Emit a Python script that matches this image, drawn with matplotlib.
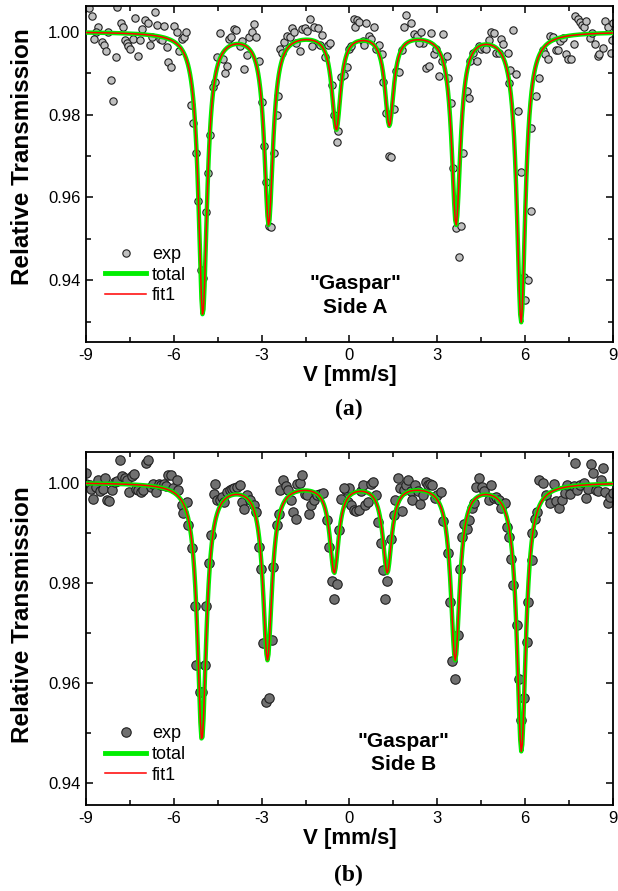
import numpy as np
import matplotlib
matplotlib.use('Agg')
import matplotlib.pyplot as plt
from matplotlib.ticker import MultipleLocator, FormatStrFormatter
from matplotlib.lines import Line2D

plt.rcParams['font.family'] = ['Liberation Sans', 'DejaVu Sans']
plt.rcParams['axes.unicode_minus'] = False

# ---- panel (a): "Gaspar" side A, measured points (V in mm/s, relative transmission)
va = [-8.89, -8.80, -7.93, -8.58, -8.66, -8.73, -8.46, -8.38, -8.32, -8.24, -8.16, -8.06, -7.98,
      -7.81, -7.74, -7.66, -7.61, -7.55, -7.49, -7.40, -7.32, -7.23, -7.15, -7.07, -6.98, -6.89,
      -6.81, -6.75, -6.63, -6.58, -6.47, -6.41, -6.33, -6.24, -6.18, -6.09, -5.99, -5.89, -5.82,
      -5.72, -5.64, -5.58, -5.41, -5.35, -5.24, -5.18, -5.07, -5.00, -4.91, -4.83, -4.75, -4.66,
      -4.58, -4.53, -4.41, -4.32, -4.24, -4.18, -4.10, -4.03, -3.96, -3.86, -3.75, -3.67, -3.59,
      -3.50, -3.42, -3.33, -3.25, -3.18, -3.08, -2.98, -2.93, -2.85, -2.76, -2.67, -2.59, -2.49,
      -2.43, -2.38, -2.30, -2.22, -2.13, -2.04, -1.96, -1.90, -1.81, -1.70, -1.61, -1.52, -1.44,
      -1.35, -1.29, -1.22, -1.08, -1.01, -0.93, -0.85, -0.74, -0.67, -0.59, -0.53, -0.44, -0.39,
      -0.30, -0.19, -0.07, -0.02, 0.05, 0.17, 0.26, 0.19, 0.34, 0.46, 0.49, 0.58, 0.66, 0.75,
      0.83, 0.92, 1.01, 1.10, 1.16, 1.24, 1.34, 1.43, 1.51, 1.59, 1.68, 1.78, 1.86, 1.92, 2.10,
      2.21, 2.29, 2.44, 2.50, 2.36, 2.62, 2.71, 2.79, 2.88, 2.97, 3.07, 3.15, 3.21, 3.32, 3.38,
      3.46, 3.53, 3.64, 3.81, 3.73, 3.88, 4.00, 4.08, 4.12, 4.23, 4.35, 4.43, 4.49, 4.59, 4.66,
      4.75, 4.84, 4.93, 5.02, 5.10, 5.19, 5.25, 5.40, 5.43, 5.48, 5.60, 5.68, 5.75, 5.84, 5.95,
      6.10, 6.01, 6.19, 6.19, 6.36, 6.46, 6.60, 6.69, 6.77, 6.85, 6.95, 7.04, 7.12, 7.18, 7.29,
      7.39, 7.47, 7.55, 7.65, 7.71, 7.79, 7.86, 7.94, 8.02, 8.09, 8.21, 8.29, 8.37, 8.47, 8.52,
      8.64, 8.72, 8.82, 8.93, 8.99, 8.98]
ta = [1.0057, 1.0038, 1.0060, 1.0012, 1.0000, 0.9982, 0.9976, 0.9967, 0.9954, 1.0000, 0.9883,
      0.9833, 0.9940, 1.0022, 1.0011, 0.9980, 0.9972, 0.9966, 0.9958, 0.9982, 1.0032, 0.9942,
      0.9980, 1.0007, 1.0027, 1.0020, 0.9968, 0.9986, 1.0047, 1.0016, 0.9982, 0.9980, 1.0014,
      0.9964, 0.9926, 0.9914, 1.0014, 1.0000, 0.9953, 0.9982, 0.9986, 0.9998, 0.9823, 0.9779,
      0.9706, 0.9592, 0.9425, 0.9405, 0.9564, 0.9660, 0.9750, 0.9866, 0.9878, 0.9938, 0.9996,
      0.9934, 0.9901, 0.9918, 0.9982, 0.9988, 1.0007, 1.0004, 0.9966, 0.9978, 0.9910, 0.9944,
      0.9988, 1.0000, 1.0018, 0.9988, 0.9930, 0.9831, 0.9724, 0.9638, 0.9531, 0.9528, 0.9706,
      0.9799, 0.9845, 0.9957, 0.9948, 0.9976, 0.9990, 0.9986, 1.0008, 1.0000, 0.9972, 0.9954,
      1.0007, 1.0008, 1.0002, 1.0030, 0.9966, 1.0012, 1.0008, 0.9968, 0.9992, 0.9940, 0.9968,
      0.9972, 0.9871, 0.9799, 0.9734, 0.9761, 0.9891, 0.9895, 0.9915, 0.9957, 0.9965, 1.0031,
      1.0029, 1.0012, 1.0023, 0.9978, 0.9968, 1.0020, 0.9990, 0.9983, 1.0011, 0.9957, 0.9968,
      0.9945, 0.9879, 0.9803, 0.9701, 0.9697, 0.9813, 0.9906, 0.9903, 0.9955, 1.0011, 1.0039,
      1.0020, 0.9994, 0.9990, 0.9998, 0.9973, 0.9973, 0.9912, 0.9916, 0.9996, 0.9945, 0.9957,
      0.9894, 0.9930, 0.9994, 0.9941, 0.9889, 0.9828, 0.9671, 0.9525, 0.9531, 0.9457, 0.9706,
      0.9856, 0.9839, 0.9930, 0.9949, 0.9930, 0.9965, 0.9957, 0.9961, 0.9957, 0.9979, 1.0000,
      0.9996, 0.9949, 0.9949, 0.9982, 0.9969, 0.9949, 0.9875, 0.9907, 1.0004, 0.9897, 0.9809,
      0.9661, 0.9408, 0.9400, 0.9353, 0.9566, 0.9768, 0.9844, 0.9887, 0.9955, 0.9945, 0.9935,
      0.9990, 0.9988, 0.9955, 0.9955, 0.9978, 0.9984, 0.9945, 0.9935, 0.9935, 0.9971, 1.0037,
      1.0031, 1.0023, 1.0015, 1.0011, 1.0025, 0.9984, 0.9996, 0.9969, 0.9941, 0.9945, 0.9961,
      1.0025, 1.0012, 0.9949, 1.0020, 0.9980]

# ---- panel (b): side B
vb = [-9.00, -8.98, -8.86, -8.75, -8.81, -8.66, -8.58, -8.52, -8.43, -8.35, -8.29, -8.20, -8.10,
      -8.01, -7.93, -7.84, -7.76, -7.66, -7.59, -7.52, -7.44, -7.36, -7.29, -7.21, -7.13, -7.04,
      -6.96, -6.87, -6.79, -6.70, -6.60, -6.52, -6.44, -6.35, -6.26, -6.18, -6.10, -6.01, -5.89,
      -5.84, -5.72, -5.67, -5.55, -5.50, -5.38, -5.29, -5.23, -5.12, -5.04, -4.92, -4.89, -4.81,
      -4.72, -4.64, -4.58, -4.52, -4.43, -4.35, -4.27, -4.18, -4.09, -4.01, -3.93, -3.84, -3.75,
      -3.67, -3.59, -3.50, -3.38, -3.27, -3.18, -3.08, -3.01, -2.95, -2.84, -2.76, -2.64, -2.61,
      -2.47, -2.42, -2.36, -2.26, -2.18, -2.10, -2.01, -1.92, -1.84, -1.78, -1.70, -1.61, -1.53,
      -1.44, -1.39, -1.33, -1.22, -1.10, -0.99, -0.89, -0.76, -0.70, -0.59, -0.44, -0.54, -0.36,
      -0.28, -0.13, -0.02, -0.19, -0.05, 0.05, 0.14, 0.23, 0.31, 0.38, 0.46, 0.54, 0.63, 0.73,
      0.81, 0.89, 0.98, 1.08, 1.16, 1.28, 1.22, 1.43, 1.51, 1.57, 1.66, 1.71, 1.80, 1.86, 1.92,
      2.01, 2.10, 2.15, 2.25, 2.33, 2.41, 2.50, 2.60, 2.68, 2.76, 2.83, 2.91, 3.00, 3.11, 3.21,
      3.35, 3.44, 3.50, 3.61, 3.70, 3.77, 3.85, 3.91, 4.00, 4.08, 4.17, 4.26, 4.31, 4.43, 4.51,
      4.60, 4.75, 4.84, 4.93, 5.02, 5.10, 5.19, 5.31, 5.37, 5.43, 5.51, 5.60, 5.72, 5.78, 5.95,
      5.87, 6.07, 6.10, 6.22, 6.24, 6.34, 6.42, 6.48, 6.60, 6.71, 6.83, 6.97, 7.04, 7.15, 7.24,
      7.35, 7.43, 7.53, 7.65, 7.71, 7.76, 7.88, 8.00, 8.09, 8.14, 8.23, 8.33, 8.41, 8.49, 8.58,
      8.64, 8.72, 8.82, 8.91, 8.99]
tb = [1.0019, 0.9998, 0.9995, 0.9968, 0.9988, 0.9991, 1.0005, 0.9983, 0.9988, 1.0010, 0.9966,
      0.9963, 0.9986, 1.0001, 1.0003, 1.0046, 1.0013, 1.0010, 1.0005, 0.9981, 1.0013, 1.0017,
      0.9988, 0.9985, 0.9981, 0.9986, 1.0039, 1.0045, 0.9991, 0.9998, 0.9981, 0.9998, 0.9995,
      0.9998, 0.9993, 1.0015, 1.0015, 0.9990, 1.0005, 0.9985, 0.9955, 0.9939, 0.9961, 0.9915,
      0.9869, 0.9753, 0.9636, 0.9581, 0.9581, 0.9636, 0.9753, 0.9839, 0.9896, 0.9978, 0.9998,
      0.9966, 0.9965, 0.9971, 0.9961, 0.9981, 0.9985, 0.9988, 0.9990, 0.9991, 0.9995, 0.9961,
      0.9948, 0.9975, 0.9966, 0.9955, 0.9941, 0.9871, 0.9828, 0.9679, 0.9561, 0.9569, 0.9685,
      0.9831, 0.9915, 0.9938, 0.9985, 1.0005, 0.9993, 0.9985, 0.9965, 0.9941, 0.9928, 0.9998,
      0.9999, 1.0015, 0.9978, 0.9975, 0.9938, 0.9955, 0.9965, 0.9975, 0.9978, 0.9979, 0.9925,
      0.9871, 0.9803, 0.9798, 0.9768, 0.9905, 0.9968, 0.9985, 0.9990, 0.9990, 0.9962, 0.9955,
      0.9945, 0.9943, 0.9945, 0.9984, 0.9996, 0.9955, 0.9962, 0.9998, 1.0002, 0.9976, 0.9921,
      0.9879, 0.9826, 0.9804, 0.9768, 0.9887, 0.9936, 0.9966, 1.0010, 0.9990, 0.9943, 0.9986,
      0.9995, 1.0005, 0.9984, 0.9966, 0.9996, 0.9983, 0.9957, 0.9976, 1.0002, 0.9995, 0.9998,
      0.9996, 0.9969, 0.9976, 0.9981, 0.9923, 0.9860, 0.9761, 0.9643, 0.9607, 0.9696, 0.9827,
      0.9891, 0.9918, 0.9908, 0.9925, 0.9949, 0.9959, 0.9991, 1.0009, 0.9991, 0.9983, 0.9966,
      0.9996, 0.9969, 0.9972, 0.9966, 0.9949, 0.9959, 0.9911, 0.9891, 0.9848, 0.9795, 0.9716,
      0.9607, 0.9569, 0.9525, 0.9682, 0.9761, 0.9845, 0.9900, 0.9928, 0.9942, 1.0005, 1.0000,
      0.9976, 0.9959, 0.9998, 0.9964, 0.9950, 0.9966, 0.9979, 0.9996, 0.9977, 0.9993, 1.0039,
      0.9986, 0.9996, 1.0000, 0.9969, 0.9988, 1.0037, 1.0020, 0.9986, 0.9984, 1.0005, 1.0030,
      0.9981, 0.9959, 0.9972, 0.9979]

# sextet fit parameters: line positions, depths, linewidth
pos_a = [-5.01, -2.76, -0.45, 1.36, 3.64, 5.86]
dep_a = [0.068, 0.046, 0.023, 0.022, 0.046, 0.0698]
gam_a = 0.36
pos_b = [-5.04, -2.80, -0.52, 1.29, 3.61, 5.87]
dep_b = [0.0512, 0.035, 0.0175, 0.0175, 0.035, 0.0535]
gam_b = 0.37

ch = np.linspace(-9, 9, 512)  # velocity channels


def sextet(v, pos, dep, gam):
    t = np.ones_like(v)
    for c, d in zip(pos, dep):
        t -= d / (1 + ((v - c) / (gam / 2)) ** 2)
    return t


fig = plt.figure(figsize=(6.18, 8.91), dpi=100)
ax1 = fig.add_axes([0.139, 0.6162, 0.853, 0.3771])
ax2 = fig.add_axes([0.139, 0.0965, 0.853, 0.3962])

panels = [
    (ax1, va, ta, pos_a, dep_a, gam_a, '#c0c0c0', 28, (0.9251, 1.0062), 'Side A', (0.511, 0.139), '(a)', 0.540, 0.075, 0.551),
    (ax2, vb, tb, pos_b, dep_b, gam_b, '#707070', 46, (0.9355, 1.0061), 'Side B', (0.603, 0.148), '(b)', 0.018, 0.025, 0.538),
]

for ax, v, t, pos, dep, gam, fc, ms, ylim, side, tpos, tag, tagy, legy, laby in panels:
    ax.scatter(v, t, s=ms, c=fc, edgecolors='#202020', linewidths=0.8, zorder=2)
    fit = sextet(ch, pos, dep, gam)
    ax.plot(ch, fit, color='#00ee00', lw=3.2, zorder=3)
    ax.plot(ch, fit, color='red', lw=1.1, zorder=4)

    ax.set_xlim(-9, 9)
    ax.set_ylim(*ylim)
    ax.xaxis.set_major_locator(MultipleLocator(3))
    ax.xaxis.set_minor_locator(MultipleLocator(1.5))
    ax.yaxis.set_major_locator(MultipleLocator(0.02))
    ax.yaxis.set_minor_locator(MultipleLocator(0.01))
    ax.yaxis.set_major_formatter(FormatStrFormatter('%.2f'))
    ax.tick_params(which='both', direction='in', top=True, right=True, labelsize=12, pad=4)
    ax.tick_params(which='major', length=5, width=1.1)
    ax.tick_params(which='minor', length=3.5, width=1.1)
    for sp in ax.spines.values():
        sp.set_linewidth(1.3)

    ax.set_xlabel('V [mm/s]', fontsize=16, fontweight='bold', labelpad=2)
    ax.set_ylabel('Relative Transmission', fontsize=17.5, fontweight='bold')
    ax.yaxis.set_label_coords(-0.098, laby)

    ax.text(tpos[0], tpos[1], '"Gaspar"\n' + side, transform=ax.transAxes, ha='center', va='center',
            fontsize=15, fontweight='bold', linespacing=1.3)

    handles = [
        Line2D([], [], ls='none', marker='o', markersize=np.sqrt(ms), markerfacecolor=fc,
               markeredgecolor='#202020', markeredgewidth=0.8),
        Line2D([], [], color='#00ee00', lw=3.5),
        Line2D([], [], color='red', lw=1.1),
    ]
    ax.legend(handles, ['exp', 'total', 'fit1'], loc='lower left', bbox_to_anchor=(0.012, legy),
              frameon=False, fontsize=13, handlelength=2.3, handletextpad=0.3, labelspacing=0.2,
              borderaxespad=0.3)

    fig.text(0.5646, tagy, tag, ha='center', va='center', fontsize=17, fontweight='bold',
             family='Liberation Serif')

fig.savefig('out.png', dpi=100)
